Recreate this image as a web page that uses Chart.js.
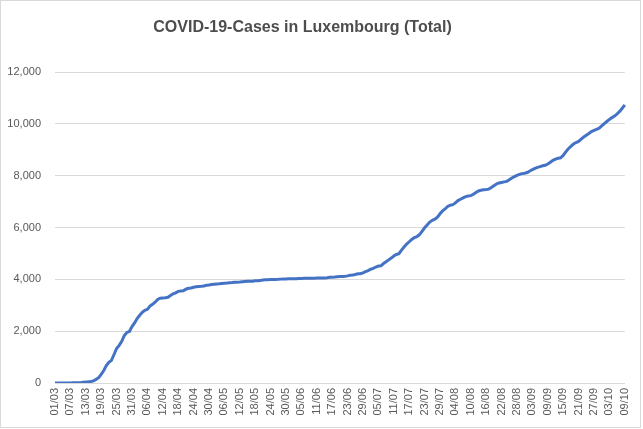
<!DOCTYPE html>
<html>
    <head>
        <meta http-equiv="Content-Type" content="text/html; charset=UTF-8">
        <title>COVID-19-Cases in Luxembourg (Total)</title>
        <script src="https://cdn.jsdelivr.net/npm/chart.js"></script>
        <style type="text/css">
            body { margin: 0; background: #ffffff; }
            .frame { position: relative; width: 643px; height: 429px; }
            .frame h1 {
                position: absolute; left: 0; top: 17px; width: 605px; margin: 0;
                text-align: center; font: bold 16px/20px "Liberation Sans", Arial, sans-serif;
                color: #4d4d4d;
            }
            .border {
                position: absolute; left: 0; top: 0; width: 639px; height: 426px;
                border: 1px solid #d9d9d9; pointer-events: none;
            }
        </style>
    </head>
    <body>
        <div class="frame">
            <canvas id="cases" width="643" height="429"></canvas>
            <h1>COVID-19-Cases in Luxembourg (Total)</h1>
            <div class="border"></div>
        </div>

        <script>
            // total cases per day, one array per month
            var marchCases = [1, 1, 1, 1, 2, 3, 4, 5, 5, 7, 7, 26, 34, 51, 59, 81, 140, 203, 335, 484,
                670, 798, 875, 1099, 1333, 1453, 1605, 1831, 1950, 1988, 2178];
            var aprilCases = [2319, 2487, 2612, 2729, 2804, 2843, 2970, 3034, 3115, 3223, 3270, 3281, 3292, 3307, 3373,
                3444, 3480, 3537, 3550, 3558, 3618, 3654, 3665, 3695, 3711, 3723, 3729, 3741, 3769, 3784];
            var mayCases = [3802, 3812, 3824, 3828, 3840, 3851, 3859, 3871, 3877, 3886, 3888, 3894, 3904, 3915, 3923,
                3930, 3930, 3945, 3947, 3958, 3971, 3980, 3981, 3990, 3993, 3995, 4000, 4008, 4012, 4016, 4018];
            var juneCases = [4019, 4020, 4024, 4032, 4035, 4039, 4040, 4040, 4043, 4046, 4049, 4052, 4054, 4056, 4061,
                4078, 4085, 4090, 4098, 4107, 4110, 4120, 4133, 4156, 4166, 4185, 4214, 4216, 4248, 4299];
            var julyCases = [4339, 4391, 4422, 4476, 4512, 4522, 4610, 4680, 4750, 4820, 4900, 4960, 4990, 5130, 5250,
                5360, 5450, 5540, 5610, 5650, 5720, 5850, 5990, 6100, 6210, 6280, 6320, 6400, 6530, 6640, 6720];
            var augustCases = [6810, 6860, 6880, 6950, 7040, 7090, 7140, 7190, 7215, 7230, 7280, 7350, 7410, 7440, 7460,
                7465, 7480, 7540, 7610, 7680, 7720, 7740, 7760, 7780, 7840, 7910, 7960, 8010, 8050, 8080, 8095];
            var septemberCases = [8120, 8180, 8230, 8280, 8320, 8350, 8380, 8400, 8450, 8520, 8590, 8640, 8670, 8690, 8780,
                8920, 9040, 9130, 9220, 9280, 9320, 9410, 9490, 9560, 9630, 9700, 9750, 9790, 9830, 9920];
            var octoberCases = [10010, 10090, 10170, 10240, 10300, 10380, 10480, 10600, 10730];

            var monthNumbers = ['03', '04', '05', '06', '07', '08', '09', '10'];
            var monthSeries = [marchCases, aprilCases, mayCases, juneCases, julyCases, augustCases, septemberCases, octoberCases];
            var yTicks = [0, 2000, 4000, 6000, 8000, 10000, 12000];
            var labelEvery = 6;

            // dd/mm category labels, one per value
            var dayLabels = [];
            var totalCases = [];
            for (var m = 0; m < monthSeries.length; m++) {
                for (var d = 0; d < monthSeries[m].length; d++) {
                    var day = d + 1;
                    dayLabels.push((day < 10 ? '0' + day : '' + day) + '/' + monthNumbers[m]);
                    totalCases.push(monthSeries[m][d]);
                }
            }

            var labelFont = { family: '"Liberation Sans", Arial, sans-serif', size: 11 };

            var ctx = document.getElementById('cases').getContext('2d');
            var casesChart = new Chart(ctx, {
                type: 'line',
                data: {
                    labels: dayLabels,
                    datasets: [{
                        label: 'Total cases',
                        data: totalCases,
                        borderColor: '#4472c4',
                        borderWidth: 3,
                        pointRadius: 0,
                        tension: 0,
                        fill: false
                    }]
                },
                options: {
                    responsive: false,
                    animation: false,
                    layout: { padding: { top: 72, left: 0, right: 16, bottom: 6 } },
                    plugins: {
                        legend: { display: false },
                        title: { display: false },
                        tooltip: { enabled: false }
                    },
                    scales: {
                        x: {
                            offset: false,
                            grid: { display: false, drawTicks: false },
                            border: { display: true, color: '#d9d9d9', width: 1 },
                            ticks: {
                                autoSkip: false,
                                minRotation: 90,
                                maxRotation: 90,
                                padding: 5,
                                color: '#595959',
                                font: labelFont,
                                callback: function (value, index) {
                                    return index % labelEvery === 0 ? dayLabels[index] : '';
                                }
                            },
                            afterFit: function (scale) { scale.height = 40; }
                        },
                        y: {
                            min: yTicks[0],
                            max: yTicks[yTicks.length - 1],
                            grid: { color: '#d9d9d9', lineWidth: 1, drawTicks: false },
                            border: { display: false },
                            afterBuildTicks: function (scale) {
                                scale.ticks = yTicks.map(function (v) { return { value: v }; });
                            },
                            ticks: {
                                padding: 14,
                                color: '#595959',
                                font: labelFont,
                                callback: function (value) { return value.toLocaleString('en-US'); }
                            },
                            afterFit: function (scale) { scale.width = 55; }
                        }
                    }
                }
            });
        </script>
    </body>
</html>
